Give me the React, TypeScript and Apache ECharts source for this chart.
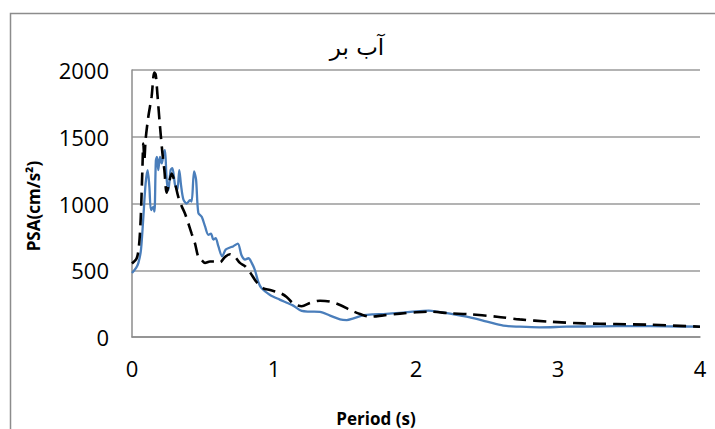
import React, { useEffect, useRef } from "react";
import * as echarts from "echarts";

const titleText = "آب بر";
const xAxisName = "Period (s)";
const yAxisName = "PSA(cm/s²)";
const xTicks = [0, 1, 2, 3, 4];
const yTicks = [0, 500, 1000, 1500, 2000];

// Blue solid series [period, PSA]
const bluePeriods = [0, 0.03, 0.045, 0.063, 0.08, 0.096, 0.11, 0.122, 0.134, 0.15, 0.158, 0.168, 0.176, 0.185, 0.197, 0.209, 0.223, 0.232, 0.244, 0.256, 0.272, 0.284, 0.303, 0.319, 0.333, 0.345, 0.362, 0.385, 0.409, 0.42, 0.437, 0.451, 0.467, 0.491, 0.514, 0.538, 0.556, 0.573, 0.589, 0.608, 0.635, 0.66, 0.69, 0.714, 0.745, 0.772, 0.796, 0.82, 0.843, 0.866, 0.89, 0.913, 0.972, 1.04, 1.09, 1.136, 1.195, 1.25, 1.324, 1.395, 1.465, 1.512, 1.56, 1.63, 1.7, 1.77, 1.887, 2.0, 2.09, 2.15, 2.24, 2.38, 2.5, 2.615, 2.73, 2.87, 3.06, 3.3, 3.53, 3.77, 4.0];
const blueValues = [480, 520, 555, 650, 900, 1150, 1250, 1130, 950, 975, 940, 1320, 1350, 1250, 1350, 1300, 1375, 1400, 1180, 1100, 1250, 1265, 1140, 1100, 1250, 1140, 1030, 1000, 1025, 1015, 1240, 1180, 930, 900, 830, 765, 775, 730, 740, 680, 605, 655, 670, 680, 700, 610, 580, 590, 555, 500, 410, 365, 315, 280, 257, 235, 195, 190, 188, 160, 132, 127, 140, 163, 170, 172, 180, 192, 197, 190, 175, 147, 115, 85, 77, 72, 77, 80, 82, 80, 77];

// Black dashed series [period, PSA]
const dashPeriods = [0, 0.033, 0.049, 0.061, 0.073, 0.08, 0.087, 0.096, 0.115, 0.138, 0.157, 0.167, 0.178, 0.197, 0.214, 0.228, 0.244, 0.26, 0.279, 0.303, 0.326, 0.35, 0.373, 0.397, 0.42, 0.444, 0.467, 0.491, 0.514, 0.549, 0.584, 0.62, 0.655, 0.69, 0.725, 0.76, 0.796, 0.831, 0.878, 0.925, 0.972, 1.042, 1.089, 1.136, 1.195, 1.254, 1.324, 1.395, 1.465, 1.536, 1.606, 1.676, 1.77, 1.887, 2.0, 2.1, 2.24, 2.36, 2.57, 2.73, 2.94, 3.18, 3.41, 3.65, 4.0];
const dashValues = [550, 590, 680, 880, 1250, 1450, 1330, 1480, 1650, 1800, 1980, 1965, 1830, 1580, 1380, 1250, 1080, 1150, 1225, 1150, 1050, 980, 925, 850, 775, 700, 600, 575, 555, 565, 565, 560, 600, 620, 600, 555, 530, 485, 410, 365, 352, 330, 300, 250, 230, 255, 272, 265, 240, 202, 172, 152, 162, 175, 185, 190, 177, 172, 152, 132, 115, 102, 97, 92, 77];

const zip = (xs: number[], ys: number[]) => xs.map((x, i) => [x, ys[i]]);

export default function App() {
  const ref = useRef<HTMLDivElement>(null);
  useEffect(() => {
    if (!ref.current) return;
    const chart = echarts.init(ref.current, null, { renderer: "svg" });
    const font = '"Open Sans", sans-serif';
    chart.setOption({
      animation: false,
      backgroundColor: "#ffffff",
      grid: { left: 132, right: 15, top: 70, bottom: 92 },
      xAxis: {
        type: "value",
        min: xTicks[0],
        max: xTicks[xTicks.length - 1],
        interval: 1,
        axisLine: { show: true, lineStyle: { color: "#8c8c8c", width: 1.5 } },
        axisTick: { show: false },
        splitLine: { show: false },
        axisLabel: { color: "#000", fontSize: 22, fontFamily: font, margin: 20, formatter: (v: number) => String(v) },
      },
      yAxis: {
        type: "value",
        min: yTicks[0],
        max: yTicks[yTicks.length - 1],
        interval: 500,
        axisLine: { show: true, lineStyle: { color: "#8c8c8c", width: 1.5 } },
        axisTick: { show: false },
        splitLine: { show: true, lineStyle: { color: "#9a9a9a", width: 1.5 } },
        axisLabel: { color: "#000", fontSize: 22, fontFamily: font, margin: 23, formatter: (v: number) => String(v) },
      },
      graphic: [
        {
          type: "rect",
          z: -10,
          shape: { x: 10.5, y: 13.5, width: 800, height: 500 },
          style: { fill: "none", stroke: "#8c8c8c", lineWidth: 1.5 },
        },
        {
          type: "text",
          x: 357,
          y: 47,
          style: {
            text: titleText,
            font: '23px "DejaVu Sans", sans-serif',
            fill: "#000",
            textAlign: "center",
            textVerticalAlign: "middle",
          },
        },
        {
          type: "text",
          x: 376,
          y: 418,
          style: {
            text: xAxisName,
            font: 'bold 17px "Open Sans", sans-serif',
            fill: "#000",
            textAlign: "center",
            textVerticalAlign: "middle",
          },
        },
        {
          type: "text",
          x: 33,
          y: 206,
          rotation: Math.PI / 2,
          style: {
            text: yAxisName,
            font: 'bold 17px "Open Sans", sans-serif',
            fill: "#000",
            textAlign: "center",
            textVerticalAlign: "middle",
          },
        },
      ],
      series: [
        {
          type: "line",
          data: zip(bluePeriods, blueValues),
          showSymbol: false,
          smooth: 0.3,
          lineStyle: { color: "#4a7ebb", width: 2.3 },
          z: 2,
        },
        {
          type: "line",
          data: zip(dashPeriods, dashValues),
          showSymbol: false,
          smooth: 0.3,
          lineStyle: { color: "#000000", width: 2.6, type: [13, 7] },
          z: 3,
        },
      ],
    });
    return () => chart.dispose();
  }, []);
  return (
    <div
      ref={ref}
      style={{ position: "fixed", left: 0, top: 0, width: 715, height: 429 }}
    />
  );
}
